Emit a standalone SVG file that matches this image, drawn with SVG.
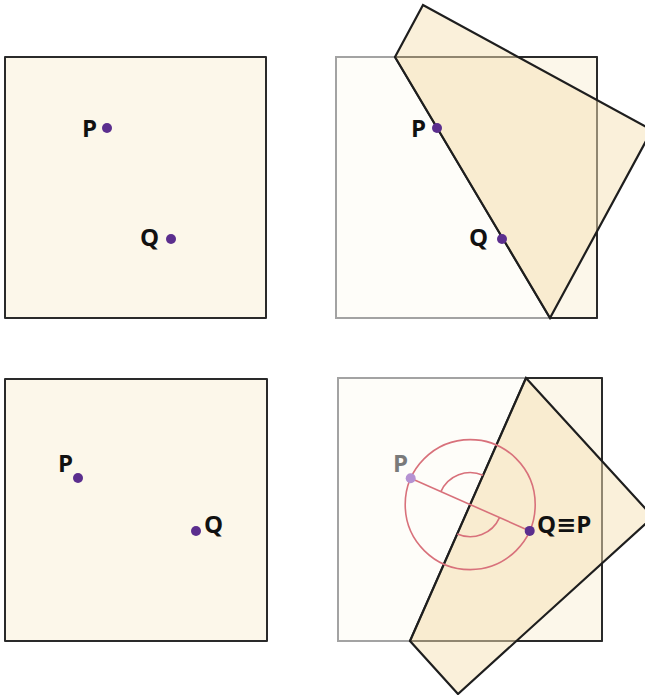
<svg xmlns="http://www.w3.org/2000/svg" width="645" height="695" viewBox="0 0 645 695">
<style>
.paper{fill:#fcf7ea;stroke:#2a2a2a;stroke-width:2;stroke-linejoin:round}
.ghost{fill:#fefdf9;stroke:#a3a3a3;stroke-width:2}
.rest{fill:#fcf7ea;stroke:#2a2a2a;stroke-width:2;stroke-linejoin:round}
.flap{fill:#f5e1b5;fill-opacity:0.5;stroke:#1e1e1e;stroke-width:2.2;stroke-linejoin:miter}
.dot{fill:#5b2e8e}
.gdot{fill:#b592d2}
.lbl{font-family:"Open Sans","Noto Sans","DejaVu Sans",sans-serif;font-weight:bold;font-size:24px;fill:#111}
.glbl{font-family:"Open Sans","Noto Sans","DejaVu Sans",sans-serif;font-weight:bold;font-size:24px;fill:#7a7a7a}
.red{fill:none;stroke:#d8717b;stroke-width:1.6}
</style>
<g id="panel1">
<rect class="paper" x="5" y="57" width="261" height="261"/>
<g id="p1-P"><circle class="dot" cx="107" cy="128" r="5"/><text class="lbl" x="97" y="137" text-anchor="end">P</text></g>
<g id="p1-Q"><circle class="dot" cx="171" cy="239" r="5"/><text class="lbl" x="140" y="246">Q</text></g>
</g>
<g id="panel2">
<rect class="ghost" x="336" y="57" width="261" height="261"/>
<polygon class="rest" points="395,57 597,57 597,318 550,318"/>
<polygon class="flap" points="395,57 423,5 652,130 550,318"/>
<g id="p2-P"><circle class="dot" cx="437" cy="128" r="5"/><text class="lbl" x="426" y="137" text-anchor="end">P</text></g>
<g id="p2-Q"><circle class="dot" cx="502" cy="239" r="5"/><text class="lbl" x="469" y="246">Q</text></g>
</g>
<g id="panel3">
<rect class="paper" x="5" y="379" width="262" height="262"/>
<g id="p3-P"><circle class="dot" cx="78" cy="478" r="5"/><text class="lbl" x="58" y="472">P</text></g>
<g id="p3-Q"><circle class="dot" cx="196" cy="531" r="5"/><text class="lbl" x="204" y="533">Q</text></g>
</g>
<g id="panel4">
<rect class="ghost" x="338" y="378" width="264" height="263"/>
<polygon class="rest" points="526,378 602,378 602,641 410,641"/>
<polygon class="flap" points="526,378 653,517 458,694 410,641"/>
<g id="connectors">
<circle class="red" cx="470.2" cy="504.6" r="65"/>
<line class="red" x1="410.7" y1="478.3" x2="529.7" y2="530.9"/>
<path class="red" d="M440.9,491.6 A32,32 0 0 1 483.1,475.3"/>
<path class="red" d="M499.5,517.6 A32,32 0 0 1 457.3,533.9"/>
</g>
<g id="p4-P"><circle class="gdot" cx="410.7" cy="478.3" r="5"/><text class="glbl" x="408" y="472" text-anchor="end">P</text></g>
<g id="p4-QP"><circle class="dot" cx="529.7" cy="530.9" r="5"/><text class="lbl" x="537" y="533">Q≡P</text></g>
</g>
</svg>
